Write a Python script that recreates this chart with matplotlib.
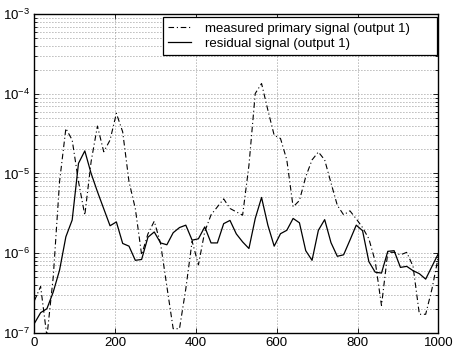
import numpy as np
import matplotlib
matplotlib.use("Agg")
import matplotlib.pyplot as plt
from matplotlib.ticker import LogLocator, NullFormatter, FixedLocator

plt.rcParams['font.family'] = ['Liberation Sans', 'DejaVu Sans']
plt.rcParams['mathtext.fontset'] = 'custom'
plt.rcParams['mathtext.rm'] = 'Liberation Sans'
plt.rcParams['mathtext.it'] = 'Liberation Sans'

# frequency grid, 65 bins from 0 to 1000
freq = np.linspace(0, 1000, 65)

measured = [2.5e-7, 3.8e-7, 8.9e-8, 5.0e-7, 7.9e-6, 3.68e-5, 2.63e-5, 7.9e-6, 2.99e-6, 1.41e-5,
            3.94e-5, 1.87e-5, 2.63e-5, 5.69e-5, 3.33e-5, 7.9e-6, 3.63e-6, 9.5e-7, 1.74e-6, 2.51e-6,
            1.32e-6, 3.8e-7, 1.12e-7, 1.12e-7, 3.55e-7, 1.41e-6, 7.1e-7, 1.86e-6, 3.02e-6, 3.8e-6,
            4.79e-6, 3.63e-6, 3.29e-6, 2.99e-6, 1.26e-5, 1.01e-4, 1.35e-4, 6.25e-5, 3.02e-5, 2.75e-5,
            1.48e-5, 3.8e-6, 4.57e-6, 9.1e-6, 1.48e-5, 1.86e-5, 1.48e-5, 7.6e-6, 3.98e-6, 3.02e-6,
            3.39e-6, 2.69e-6, 2.09e-6, 1.51e-6, 7.9e-7, 2.19e-7, 1.02e-6, 1.02e-6, 9.5e-7, 1.02e-6,
            6.8e-7, 1.7e-7, 1.7e-7, 3.55e-7, 8.9e-7]

residual = [1.30e-7, 1.78e-7, 2.0e-7, 3.24e-7, 6.1e-7, 1.6e-6, 2.6e-6, 1.34e-5, 1.92e-5, 1.0e-5,
            5.9e-6, 3.6e-6, 2.2e-6, 2.46e-6, 1.32e-6, 1.22e-6, 8.1e-7, 8.3e-7, 1.58e-6, 1.84e-6,
            1.34e-6, 1.27e-6, 1.80e-6, 2.09e-6, 2.24e-6, 1.45e-6, 1.51e-6, 2.13e-6, 1.34e-6, 1.34e-6,
            2.34e-6, 2.57e-6, 1.74e-6, 1.38e-6, 1.14e-6, 2.72e-6, 4.99e-6, 2.24e-6, 1.22e-6, 1.75e-6,
            1.93e-6, 2.72e-6, 2.40e-6, 1.07e-6, 8.1e-7, 1.93e-6, 2.63e-6, 1.35e-6, 9.1e-7, 9.5e-7,
            1.45e-6, 2.24e-6, 1.91e-6, 7.8e-7, 5.75e-7, 5.6e-7, 1.05e-6, 1.07e-6, 6.6e-7, 6.8e-7,
            6.0e-7, 5.5e-7, 4.7e-7, 6.8e-7, 9.8e-7]

labels = ['measured primary signal (output 1)', 'residual signal (output 1)']
xticks = [0, 200, 400, 600, 800, 1000]

fig = plt.figure(figsize=(4.55, 3.57), dpi=100)
ax = fig.add_axes([0.0754, 0.0683, 0.8879, 0.8917])

ax.semilogy(freq, measured, color='k', lw=0.8, linestyle=(0, (5, 2.5, 1, 2.5)), label=labels[0])
ax.semilogy(freq, residual, color='k', lw=0.9, linestyle='-', label=labels[1])

ax.set_xlim(0, 1000)
ax.set_ylim(1e-7, 1e-3)
ax.xaxis.set_major_locator(FixedLocator(xticks))
ax.yaxis.set_major_locator(LogLocator(base=10, numticks=10))
ax.yaxis.set_minor_locator(LogLocator(base=10, subs=np.arange(2, 10), numticks=10))
ax.yaxis.set_minor_formatter(NullFormatter())

gstyle = dict(color='#707070', linestyle=(0, (1, 2.6)), lw=0.6)
ax.grid(True, which='major', **gstyle)
ax.grid(True, which='minor', axis='y', **gstyle)

ax.tick_params(which='both', direction='in', top=True, right=True, labelsize=9.5, width=0.6)
ax.tick_params(which='major', length=3.5, pad=3)
ax.tick_params(which='minor', length=2)
for s in ax.spines.values():
    s.set_linewidth(1.0)

# legend box spans a fixed width in the upper right corner
leg = ax.legend(loc='upper right', bbox_to_anchor=(0.3178, 0.0, 0.6797, 0.9906), mode='expand',
                fontsize=9.5, frameon=True, fancybox=False, edgecolor='k', framealpha=1,
                borderaxespad=0.0, handlelength=1.7, handletextpad=1.1, borderpad=0.42,
                labelspacing=0.2)
leg.get_frame().set_linewidth(0.9)

fig.savefig('out.png', dpi=100)
